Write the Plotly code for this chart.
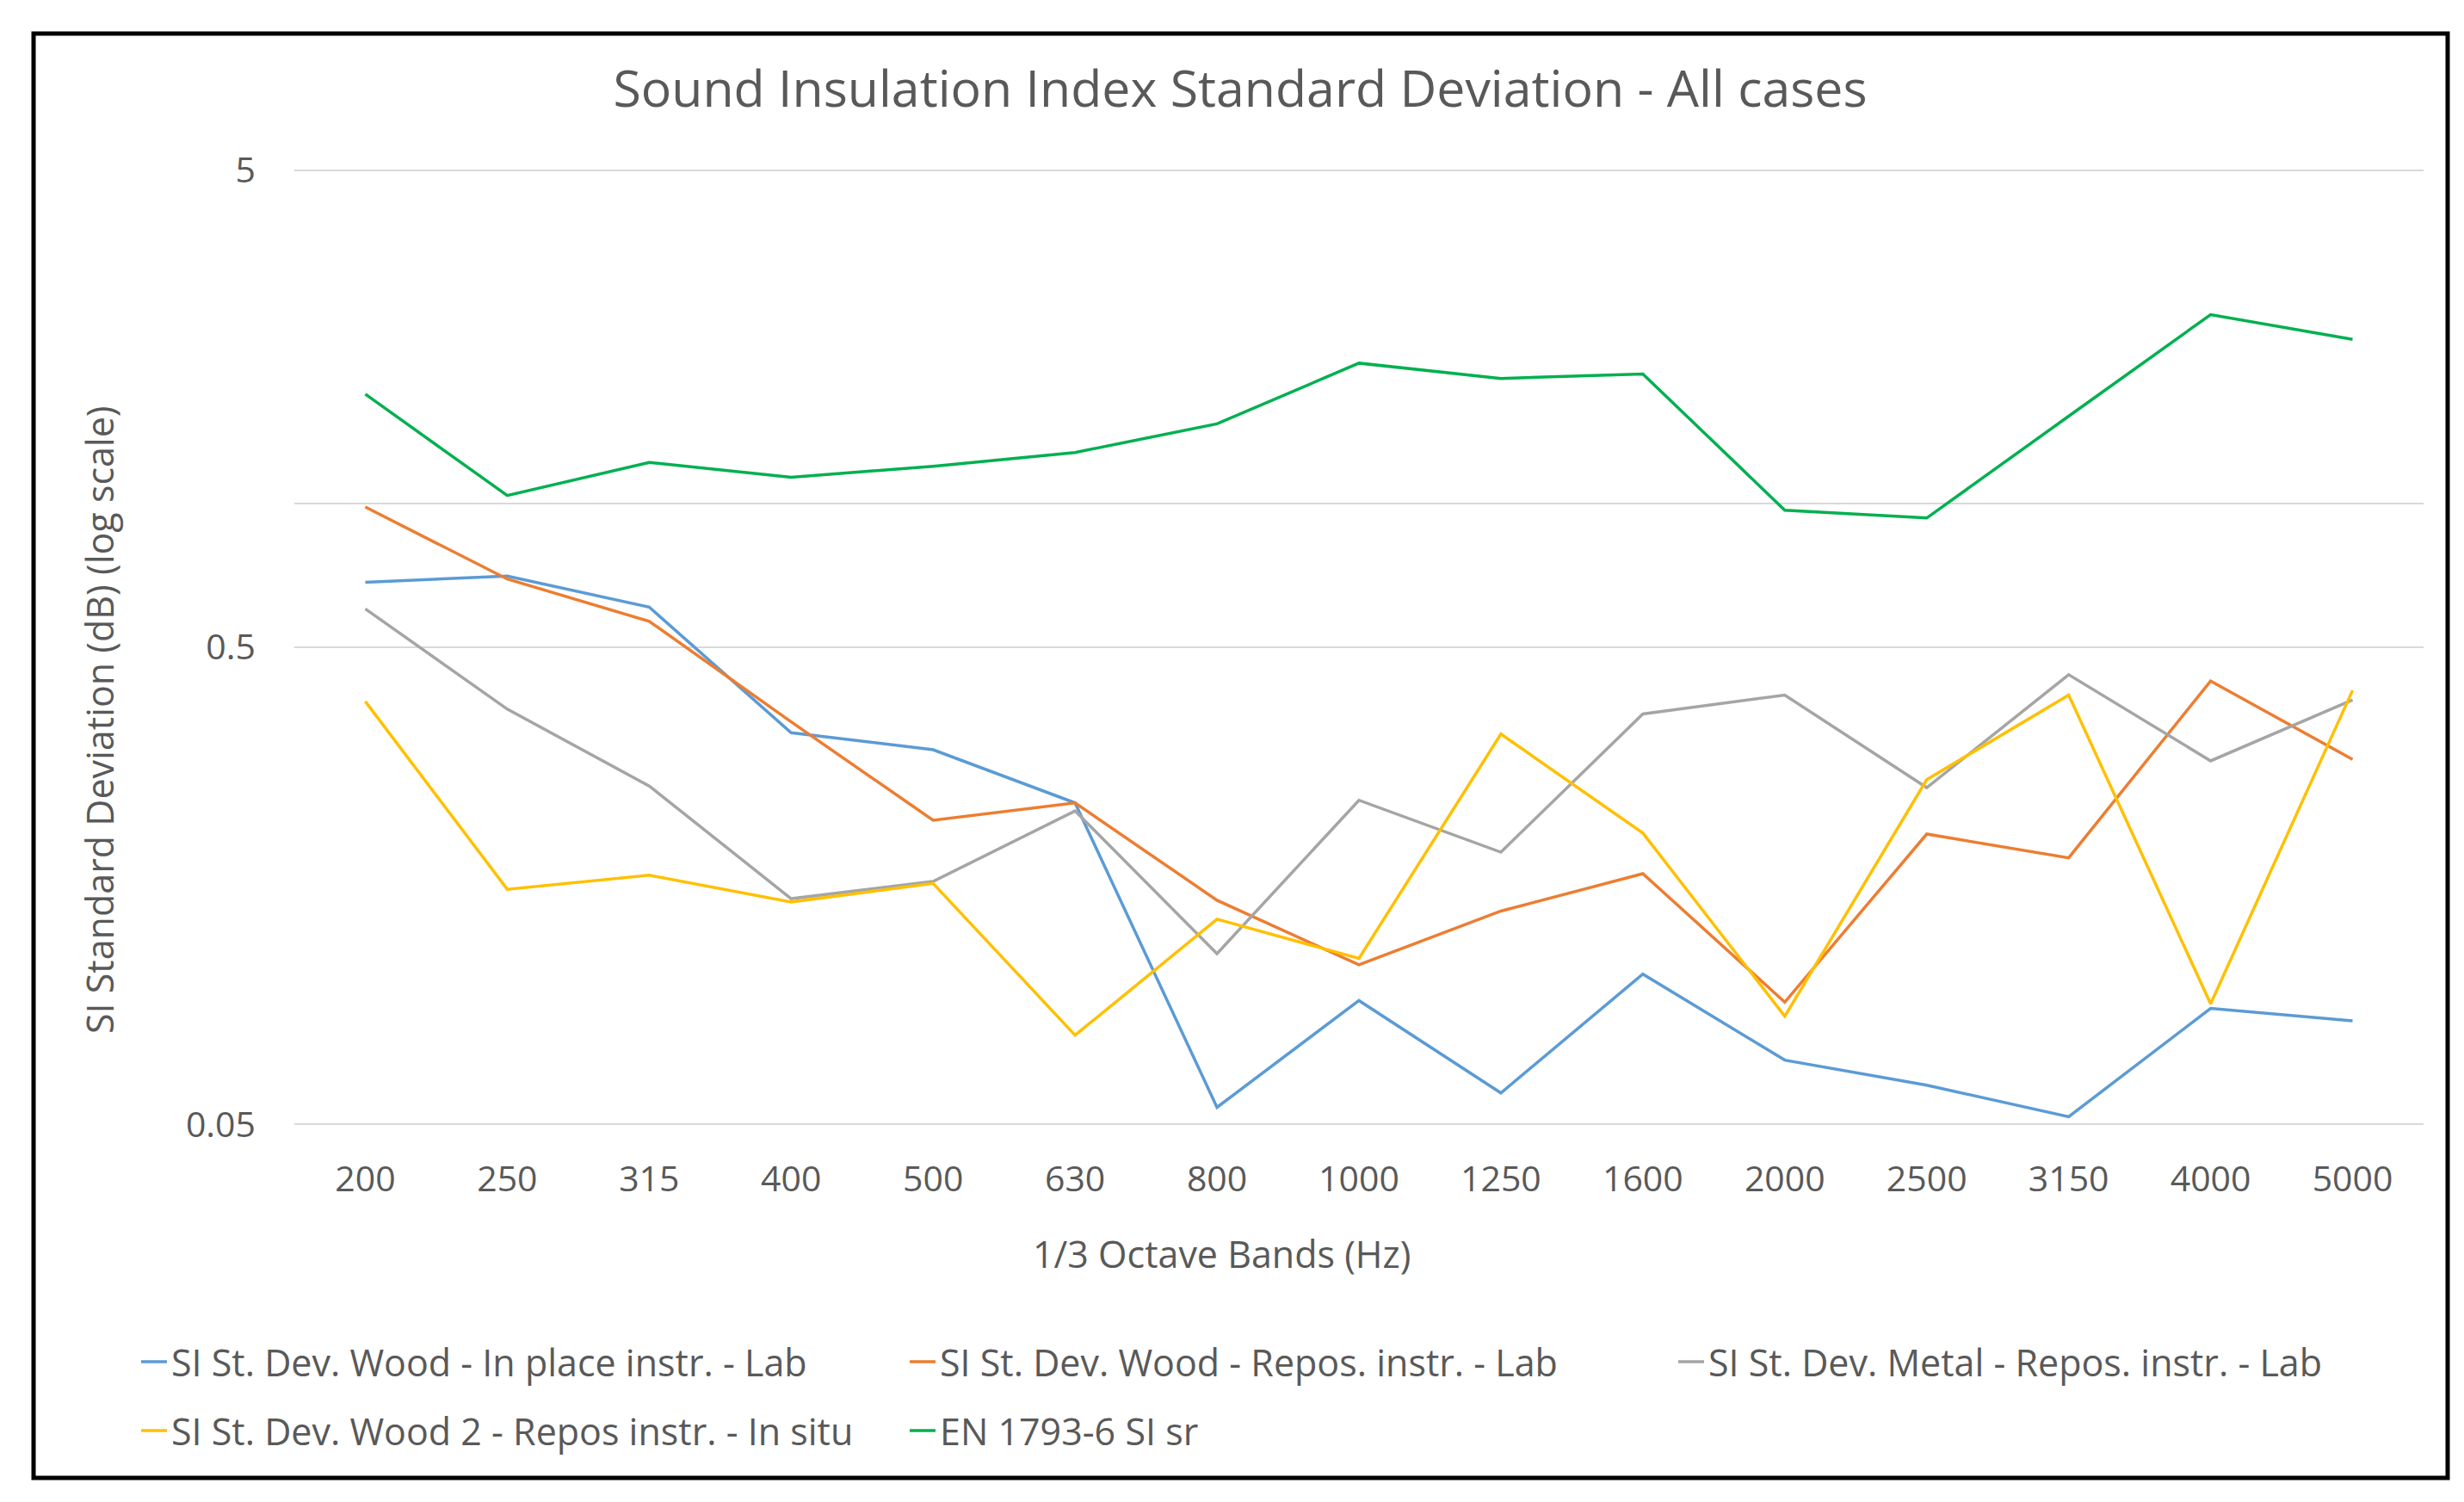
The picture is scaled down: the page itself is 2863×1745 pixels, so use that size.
import math
import plotly.graph_objects as go

bands = ["200", "250", "315", "400", "500", "630", "800", "1000", "1250",
         "1600", "2000", "2500", "3150", "4000", "5000"]

wood_inplace_lab = [0.684, 0.705, 0.607, 0.331, 0.305, 0.236, 0.0543, 0.0909, 0.0582,
                    0.1033, 0.0682, 0.0604, 0.0519, 0.0875, 0.0824]
wood_repos_lab = [0.984, 0.695, 0.567, 0.349, 0.217, 0.236, 0.1475, 0.108, 0.140,
                  0.1677, 0.0902, 0.203, 0.181, 0.425, 0.291]
metal_repos_lab = [0.602, 0.371, 0.256, 0.1486, 0.1615, 0.227, 0.114, 0.239, 0.186,
                   0.3625, 0.397, 0.254, 0.438, 0.289, 0.388]
wood2_repos_insitu = [0.385, 0.1555, 0.1664, 0.1463, 0.160, 0.0769, 0.1346, 0.1114, 0.329,
                      0.204, 0.0843, 0.264, 0.397, 0.0895, 0.406]
en1793_sr = [1.696, 1.04, 1.22, 1.136, 1.198, 1.28, 1.47, 1.97, 1.83,
             1.87, 0.969, 0.933, 1.525, 2.49, 2.21]

series_names = [
    "SI St. Dev. Wood - In place instr. - Lab",
    "SI St. Dev. Wood - Repos. instr. - Lab",
    "SI St. Dev. Metal - Repos. instr. - Lab",
    "SI St. Dev. Wood 2 - Repos instr. - In situ",
    "EN 1793-6 SI sr",
]
series_values = [wood_inplace_lab, wood_repos_lab, metal_repos_lab,
                 wood2_repos_insitu, en1793_sr]
series_colors = ["#5B9BD5", "#ED7D31", "#A5A5A5", "#FFC000", "#00B050"]
series_legend = ["legend", "legend", "legend", "legend2", "legend2"]

y_tickvals = [0.05, 0.5, 1, 5]
y_ticktext = ["0.05", "0.5", "", "5"]

W, H = 2863, 1745
L, R, T, B = 334, 55, 188, 445
PW, PH = W - L - R, H - T - B


def px(x):
    return (x - L) / PW


def py(y):
    return (H - B - y) / PH


FONT = "Open Sans"
TXT = "#595959"
EPS = 0.003

fig = go.Figure()
for name, vals, col, lg in zip(series_names, series_values, series_colors, series_legend):
    fig.add_trace(go.Scatter(x=bands, y=vals, name=name, mode="lines",
                             line=dict(color=col, width=3.5), legend=lg))

fig.update_layout(
    width=W, height=H,
    margin=dict(l=L, r=R, t=T, b=B, autoexpand=False),
    paper_bgcolor="white", plot_bgcolor="white",
    font=dict(family=FONT, color=TXT),
    title=dict(text="Sound Insulation Index Standard Deviation - All cases",
               x=1433 / W, xanchor="center", y=1 - 95 / H, yanchor="middle",
               font=dict(size=59, color=TXT, family=FONT)),
    xaxis=dict(type="category", range=[-0.5, len(bands) - 0.5],
               showgrid=False, zeroline=False, showline=False,
               ticks="", tickfont=dict(size=41, color=TXT), ticklabelstandoff=34),
    yaxis=dict(type="log", range=[math.log10(0.05) - EPS, math.log10(5) + EPS],
               tickvals=y_tickvals, ticktext=y_ticktext,
               showgrid=True, gridcolor="#D9D9D9", gridwidth=2,
               zeroline=False, showline=False, ticks="",
               tickfont=dict(size=41, color=TXT), ticklabelstandoff=44),
    legend=dict(orientation="h", x=px(151), xanchor="left", y=py(1574), yanchor="middle",
                entrywidth=848, entrywidthmode="pixels",
                font=dict(size=43, color=TXT, family=FONT), bgcolor="rgba(0,0,0,0)"),
    legend2=dict(orientation="h", x=px(151), xanchor="left", y=py(1654), yanchor="middle",
                 entrywidth=848, entrywidthmode="pixels",
                 font=dict(size=43, color=TXT, family=FONT), bgcolor="rgba(0,0,0,0)"),
    annotations=[
        dict(text="1/3 Octave Bands (Hz)", x=px(1411), y=py(1448), xref="paper", yref="paper",
             xanchor="center", yanchor="middle", showarrow=False,
             font=dict(size=43, color=TXT, family=FONT)),
        dict(text="SI Standard Deviation (dB) (log scale)", x=px(107), y=py(828),
             xref="paper", yref="paper", xanchor="center", yanchor="middle",
             textangle=-90, showarrow=False, font=dict(size=43, color=TXT, family=FONT)),
    ],
    shapes=[
        dict(type="rect", xref="paper", yref="paper",
             x0=px(31), x1=px(2836), y0=py(1709), y1=py(31),
             line=dict(color="black", width=5), fillcolor="rgba(0,0,0,0)", layer="above"),
    ],
)

fig.write_html("out.html")
